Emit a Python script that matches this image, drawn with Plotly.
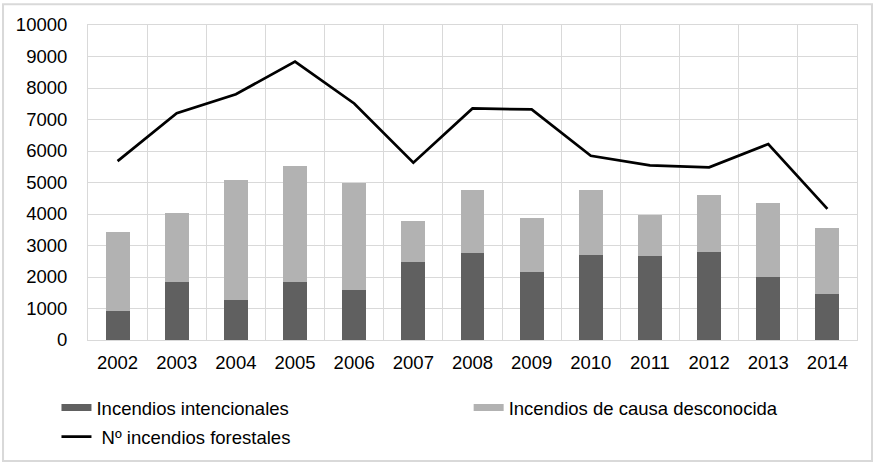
import plotly.graph_objects as go

years = ["2002", "2003", "2004", "2005", "2006", "2007", "2008",
         "2009", "2010", "2011", "2012", "2013", "2014"]
intencionales = [930, 1850, 1270, 1850, 1600, 2490, 2760, 2150, 2700, 2670, 2790, 2010, 1450]
totales_barras = [3420, 4030, 5070, 5530, 5000, 3770, 4760, 3880, 4760, 3980, 4610, 4350, 3545]
desconocida = [t - i for t, i in zip(totales_barras, intencionales)]
forestales = [5680, 7200, 7800, 8840, 7510, 5630, 7350, 7320, 5850, 5545, 5480, 6220, 4160]

y_ticks = list(range(0, 10001, 1000))
y_tick_text = [str(v) for v in y_ticks]

DARK = "#606060"
LIGHT = "#b2b2b2"

fig = go.Figure()
fig.add_trace(go.Bar(x=years, y=intencionales, name="Incendios intencionales",
                     marker=dict(color=DARK, line=dict(width=0)), showlegend=False))
fig.add_trace(go.Bar(x=years, y=desconocida, name="Incendios de causa desconocida",
                     marker=dict(color=LIGHT, line=dict(width=0)), showlegend=False))
fig.add_trace(go.Scatter(x=years, y=forestales, name=" Nº incendios forestales",
                         mode="lines", line=dict(color="black", width=2.7),
                         legend="legend3"))
# legend keys drawn as flat swatches for the two bar series
fig.add_trace(go.Scatter(x=[None], y=[None], mode="lines", name="Incendios intencionales",
                         line=dict(color=DARK, width=7), legend="legend"))
fig.add_trace(go.Scatter(x=[None], y=[None], mode="lines", name="Incendios de causa desconocida",
                         line=dict(color=LIGHT, width=7), legend="legend2"))

grid = "#d9d9d9"
leg_font = dict(family="Liberation Sans, Arial, sans-serif", size=18.5, color="black")
leg_common = dict(orientation="h", xanchor="left", yanchor="middle", font=leg_font,
                  bgcolor="rgba(0,0,0,0)", itemwidth=30)
fig.update_layout(
    width=878, height=464,
    margin=dict(l=88, r=21, t=25, b=124, autoexpand=False),
    barmode="stack", bargap=0.595,
    paper_bgcolor="white", plot_bgcolor="white",
    font=dict(family="Liberation Sans, Arial, sans-serif", size=18.5, color="black"),
    showlegend=True,
    legend=dict(x=-0.041, y=-0.216, **leg_common),
    legend2=dict(x=0.495, y=-0.216, **leg_common),
    legend3=dict(x=-0.041, y=-0.308, **leg_common),
    xaxis=dict(type="category", tickson="boundaries", showgrid=True, gridcolor=grid,
               gridwidth=1, showline=True, mirror=True, linecolor=grid, linewidth=1,
               ticks="", ticklabelstandoff=6, range=[-0.5, 12.5]),
    yaxis=dict(range=[0, 10000], tickvals=y_ticks, ticktext=y_tick_text, showgrid=True,
               gridcolor=grid, gridwidth=1, showline=True, mirror=True, linecolor=grid,
               linewidth=1, ticks="", ticklabelstandoff=16, zeroline=False),
    shapes=[dict(type="rect", xref="paper", yref="paper",
                 x0=-0.1105, x1=1.0195, y0=-0.384, y1=1.066,
                 line=dict(color="#d9d9d9", width=2), fillcolor="rgba(0,0,0,0)",
                 layer="below")],
)

fig.write_html("out.html")
